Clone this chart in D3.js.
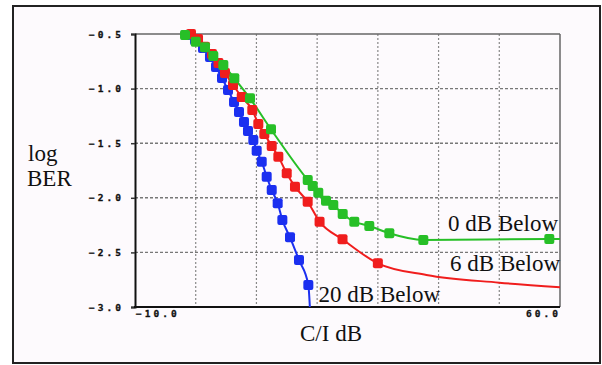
<!DOCTYPE html>
<html>
<head>
<meta charset="utf-8">
<script src="https://cdn.jsdelivr.net/npm/d3@7"></script>
<style>
  body { margin: 0; background: #fff; }
  .tick-label { font-family: "DejaVu Sans Mono", monospace; font-weight: bold; font-size: 9.5px; letter-spacing: 3px; fill: #111; stroke: #111; stroke-width: 0.3px; }
  .title { font-family: "Liberation Serif", "Times New Roman", serif; font-size: 23px; fill: #111; }
</style>
</head>
<body>
<div id="chart"></div>
<script>
// data (C/I in dB, log BER)
let green_x = [-1.76, 0.0, 1.53, 2.9, 4.55, 6.36, 8.94, 12.4, 18.45, 19.27, 20.19, 21.46, 22.66, 24.21, 26.12, 28.59, 31.89, 37.49, 58.24];
let green_y = [-0.51, -0.57, -0.622, -0.701, -0.784, -0.906, -1.089, -1.373, -1.837, -1.892, -1.953, -2.026, -2.066, -2.148, -2.219, -2.258, -2.325, -2.386, -2.377];
let green_tail = [[60, -2.377]];

let red_x = [-0.78, 0.38, 1.53, 2.68, 3.75, 4.82, 6.14, 7.58, 9.32, 10.31, 11.3, 12.52, 13.61, 14.99, 16.35, 18.44, 20.4, 24.18, 30.0];
let red_y = [-0.5, -0.546, -0.616, -0.683, -0.766, -0.857, -0.967, -1.077, -1.196, -1.324, -1.416, -1.526, -1.623, -1.776, -1.898, -2.036, -2.219, -2.38, -2.6];
let red_tail = [[38, -2.707], [50, -2.777], [60, -2.82]];

let blue_x = [-1.6, -0.12, 1.2, 2.35, 3.34, 4.33, 5.32, 6.31, 7.13, 7.95, 8.61, 9.49, 10.04, 10.87, 11.69, 12.52, 13.5, 14.27, 15.53, 17.01, 18.55];
let blue_y = [-0.509, -0.555, -0.628, -0.711, -0.802, -0.903, -1.013, -1.123, -1.214, -1.306, -1.388, -1.471, -1.569, -1.669, -1.807, -1.929, -2.05, -2.203, -2.362, -2.57, -2.799];
let blue_tail = [[18.8, -3.0]];

let y_ticks = [-0.5, -1.0, -1.5, -2.0, -2.5, -3.0];
let x_grid = [0, 10, 20, 30, 40, 50];
let x_labels = [-10, 60];

let series = [
  {name: '0 dB Below', color: '#27bf27', xs: green_x, ys: green_y, tail: green_tail},
  {name: '6 dB Below', color: '#f01d1d', xs: red_x, ys: red_y, tail: red_tail},
  {name: '20 dB Below', color: '#1b2ff0', xs: blue_x, ys: blue_y, tail: blue_tail}
];

const width = 602, height = 365;
const plot = {left: 135, right: 560, top: 34, bottom: 307};

const svg = d3.select('#chart')
  .append('svg')
  .attr('width', width)
  .attr('height', height);

// 1. frame
svg.append('rect')
  .attr('x', 13).attr('y', 6)
  .attr('width', 587).attr('height', 357)
  .attr('fill', '#fdfafd')
  .attr('stroke', '#222')
  .attr('stroke-width', 2);

// 2. scales
let xScale = d3.scaleLinear().domain([-10, 60]).range([plot.left, plot.right]);
let yScale = d3.scaleLinear().domain([-0.5, -3.0]).range([plot.top, plot.bottom]);

// 3. grid
svg.selectAll('.vgrid')
  .data(x_grid)
  .enter()
  .append('line')
  .attr('x1', d => xScale(d)).attr('x2', d => xScale(d))
  .attr('y1', plot.top).attr('y2', plot.bottom)
  .attr('stroke', '#888')
  .attr('stroke-width', 1.2)
  .attr('stroke-dasharray', '2,2');

svg.selectAll('.hgrid')
  .data(y_ticks.slice(1, -1))
  .enter()
  .append('line')
  .attr('x1', plot.left).attr('x2', plot.right)
  .attr('y1', d => yScale(d)).attr('y2', d => yScale(d))
  .attr('stroke', '#777')
  .attr('stroke-width', 1.4)
  .attr('stroke-dasharray', '3,2');

// 4. axes box
svg.append('line')
  .attr('x1', plot.left).attr('x2', plot.right)
  .attr('y1', plot.top).attr('y2', plot.top)
  .attr('stroke', '#666').attr('stroke-width', 1.5);
svg.append('line')
  .attr('x1', plot.right).attr('x2', plot.right)
  .attr('y1', plot.top).attr('y2', plot.bottom)
  .attr('stroke', '#666').attr('stroke-width', 1.5);

let yAxis = d3.axisLeft(yScale)
  .tickValues(y_ticks)
  .tickSize(4)
  .tickFormat('');
svg.append('g')
  .attr('transform', `translate(${plot.left},0)`)
  .call(yAxis)
  .call(g => g.select('.domain').attr('stroke', '#111').attr('stroke-width', 2))
  .call(g => g.selectAll('.tick line').attr('stroke', '#333').attr('stroke-width', 1.5));

svg.append('line')
  .attr('x1', plot.left - 1).attr('x2', plot.right)
  .attr('y1', plot.bottom).attr('y2', plot.bottom)
  .attr('stroke', '#111').attr('stroke-width', 2);

// 5. tick labels
svg.selectAll('.ylab')
  .data(y_ticks)
  .enter()
  .append('text')
  .attr('class', 'tick-label')
  .attr('x', 124)
  .attr('y', d => yScale(d) + 3.5)
  .attr('text-anchor', 'end')
  .text(d => d.toFixed(1).replace('-', '\u2212'));

svg.selectAll('.xlab')
  .data(x_labels)
  .enter()
  .append('text')
  .attr('class', 'tick-label')
  .attr('x', (d, i) => i == 0 ? xScale(d) + 1 : xScale(d) + 1)
  .attr('y', plot.bottom + 10)
  .attr('text-anchor', (d, i) => i == 0 ? 'start' : 'end')
  .text(d => d.toFixed(1).replace('-', '\u2212'));

// 6. curves and markers
let line = d3.line()
  .x(d => xScale(d[0]))
  .y(d => yScale(d[1]))
  .curve(d3.curveMonotoneX);

series.forEach(s => {
  let pts = s.xs.map((x, i) => [x, s.ys[i]]);
  svg.append('path')
    .datum(pts.concat(s.tail))
    .attr('d', line)
    .attr('fill', 'none')
    .attr('stroke', s.color)
    .attr('stroke-width', 2);
});

series.slice().reverse().forEach(s => {
  let pts = s.xs.map((x, i) => [x, s.ys[i]]);
  svg.selectAll(null)
    .data(pts)
    .enter()
    .append('rect')
    .attr('x', d => xScale(d[0]) - 5)
    .attr('y', d => yScale(d[1]) - 5)
    .attr('width', 10)
    .attr('height', 10)
    .attr('rx', 2)
    .attr('fill', s.color);
});

// 7. titles and labels
svg.append('text').attr('class', 'title').attr('x', 28).attr('y', 161).text('log');
svg.append('text').attr('class', 'title').attr('x', 27).attr('y', 186).text('BER');
svg.append('text').attr('class', 'title').attr('x', 331).attr('y', 341).attr('text-anchor', 'middle').text('C/I dB');

let label_pos = [[558, 231], [560, 271], [440, 302]];
series.forEach((s, i) => {
  svg.append('text')
    .attr('class', 'title')
    .attr('x', label_pos[i][0])
    .attr('y', label_pos[i][1])
    .attr('text-anchor', 'end')
    .text(s.name);
});
</script>
</body>
</html>
